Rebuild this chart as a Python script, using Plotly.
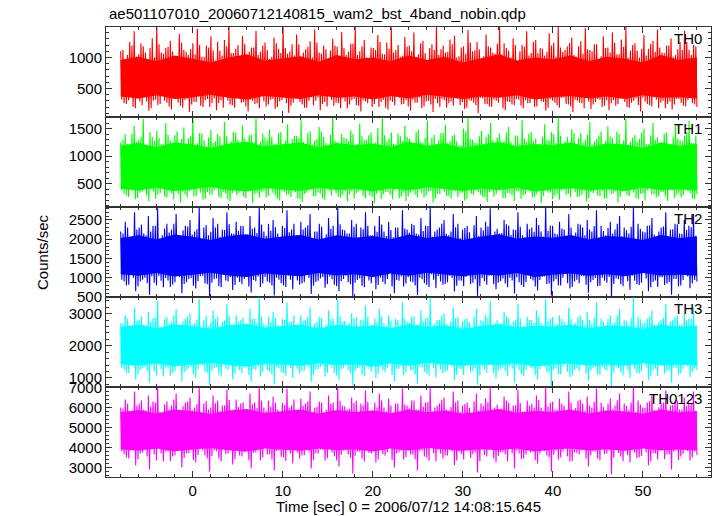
import numpy as np
import plotly.graph_objects as go

title_text = "ae501107010_20060712140815_wam2_bst_4band_nobin.qdp"
band_names = ["TH0", "TH1", "TH2", "TH3", "TH0123"]
band_colors = ["#ff0000", "#00ff00", "#0000ff", "#00ffff", "#ff00ff"]
t_start, t_end = -8.0, 56.0

# large local maxima / minima of each light curve (counts/sec)
th0_peaks = [1100, 980, 1250, 1420, 1050, 1180, 920, 1310, 1490, 1080, 1150, 1270, 990, 1380, 1120, 1040, 1230, 1460, 1010, 1190, 1340, 950, 1110, 1280, 1490, 1070, 1200, 1350, 1020, 1160, 1430, 1090, 1240, 980, 1320, 1140, 1490, 1060, 1210, 1370, 1000, 1130, 1260, 1450, 1080, 1190, 930, 1300, 1170, 1410, 1040, 1220, 1490, 1100, 1280, 970, 1150, 1360, 1060, 1240, 1480, 1120, 1010, 1330, 1190, 1400, 1050, 1270, 960, 1210, 1490, 1130, 1080, 1290, 1350, 1020, 1180, 1440, 1100, 1250, 990, 1370, 1160, 1060, 1490, 1230, 1110, 1310, 940, 1200, 1420, 1070, 1280, 1150, 1030, 1390, 1240, 1490, 1090, 1180, 1320, 1010, 1260, 1470, 1120, 1210, 970, 1340, 1160, 1400, 1050, 1290, 1490, 1110, 1230, 1000, 1360, 1140, 1270, 1450, 1080, 1190, 1310, 1040, 1250, 1430, 1120, 1200, 1060]
th0_troughs = [320, 250, 410, 180, 290, 360, 140, 300, 230, 390, 270, 160, 340, 220, 310, 120, 280, 370, 200, 330, 260, 150, 310, 400, 240, 190, 350, 280, 130, 300, 260, 380, 210, 320, 170, 290, 350, 110, 270, 330, 240, 190, 360, 300, 150, 280, 410, 220, 260, 340, 180, 310, 230, 130, 290, 370, 250, 200, 320, 160, 280, 390, 240, 310, 140, 270, 350, 210, 300, 120, 260, 330, 190, 290, 380, 230, 170, 310, 270, 100, 340, 250, 200, 300, 360, 150, 280, 230, 320, 180, 260, 400, 210, 290, 140, 330, 270, 190, 350, 240, 120, 300, 260, 370, 170, 280, 320, 220, 150, 310, 250, 390, 200, 270, 340, 130, 290, 230, 360, 180, 300, 250, 160, 330, 270, 210, 380, 240, 290]
# smaller extrema in between
th0_mid_peaks = [1120, 1040, 1190, 1010, 1230, 1080, 1150, 1000, 1210, 1060, 1170, 1100, 1020, 1240, 1090, 1130, 1050, 1200, 1010, 1160, 1110, 1250, 1030, 1180, 1070, 1140, 1000, 1220, 1090, 1160, 1040, 1190, 1120, 1010, 1230, 1070, 1150, 1100, 1030, 1210, 1080, 1170, 1000, 1240, 1060, 1130, 1110, 1190, 1020, 1150, 1090, 1220, 1040, 1180, 1000, 1160, 1120, 1250, 1050, 1140, 1080, 1200, 1030, 1170, 1100, 1010, 1230, 1070, 1150, 1120, 1040, 1190, 1090, 1210, 1000, 1160, 1060, 1240, 1110, 1130, 1020, 1180, 1080, 1220, 1050, 1150, 1000, 1200, 1100, 1170, 1030, 1250, 1070, 1140, 1090, 1190, 1010, 1160, 1120, 1230, 1040, 1180, 1060, 1130, 1100, 1210, 1020, 1150, 1080, 1240, 1050, 1170, 1000, 1200, 1110, 1140, 1030, 1220, 1090, 1160, 1070, 1190, 1010, 1130, 1120, 1250, 1040, 1180]
th0_mid_troughs = [260, 310, 200, 340, 230, 290, 180, 320, 250, 300, 210, 350, 270, 190, 330, 240, 280, 220, 310, 200, 340, 260, 190, 300, 230, 350, 270, 210, 320, 250, 180, 290, 240, 330, 200, 310, 260, 220, 340, 280, 190, 300, 230, 350, 250, 210, 320, 270, 180, 290, 240, 330, 220, 310, 260, 200, 340, 280, 190, 300, 230, 350, 250, 210, 320, 270, 180, 290, 240, 330, 200, 310, 260, 220, 340, 280, 190, 300, 230, 350, 250, 210, 320, 270, 180, 290, 240, 330, 220, 310, 260, 200, 340, 280, 190, 300, 230, 350, 250, 210, 320, 270, 180, 290, 240, 330, 200, 310, 260, 220, 340, 280, 190, 300, 230, 350, 250, 210, 320, 270, 180, 290, 240, 330, 220, 310, 260, 200]

th1_peaks = [1250, 1400, 1120, 1550, 1300, 1680, 1180, 1350, 1460, 1220, 1600, 1290, 1380, 1150, 1520, 1330, 1700, 1240, 1410, 1190, 1480, 1270, 1360, 1620, 1210, 1440, 1300, 1560, 1170, 1390, 1700, 1260, 1340, 1490, 1230, 1420, 1150, 1580, 1310, 1370, 1650, 1200, 1450, 1280, 1530, 1350, 1180, 1690, 1260, 1400, 1320, 1470, 1140, 1590, 1290, 1380, 1230, 1510, 1700, 1270, 1430, 1200, 1360, 1550, 1310, 1160, 1480, 1250, 1640, 1340, 1220, 1420, 1570, 1280, 1390, 1190, 1500, 1700, 1300, 1240, 1460, 1350, 1600, 1210, 1410, 1280, 1530, 1170, 1370, 1660, 1260, 1440, 1320, 1200, 1580, 1290, 1400, 1700, 1230, 1350, 1490, 1150, 1420, 1300, 1620, 1270, 1380, 1210, 1540, 1330, 1450, 1180, 1680, 1260, 1390, 1310, 1500, 1220, 1600, 1340, 1250, 1430, 1170, 1560, 1290, 1370, 1640, 1240, 1410]
th1_troughs = [380, 290, 450, 220, 340, 410, 180, 360, 300, 430, 250, 330, 390, 160, 310, 370, 270, 420, 210, 350, 300, 460, 240, 320, 190, 380, 340, 270, 410, 150, 330, 360, 250, 440, 290, 200, 350, 310, 390, 230, 170, 340, 400, 280, 320, 210, 370, 450, 260, 300, 180, 360, 330, 410, 240, 290, 150, 380, 310, 350, 220, 430, 270, 190, 340, 300, 390, 250, 360, 160, 320, 410, 280, 230, 370, 330, 200, 440, 290, 350, 260, 170, 380, 310, 400, 240, 330, 190, 360, 290, 420, 250, 310, 150, 370, 340, 280, 210, 390, 320, 450, 260, 300, 180, 350, 410, 270, 230, 380, 330, 160, 360, 290, 400, 240, 320, 200, 430, 310, 270, 350, 190, 380, 300, 250, 420, 330, 220, 360]
th1_mid_peaks = [1300, 1220, 1410, 1260, 1350, 1190, 1440, 1280, 1330, 1210, 1390, 1250, 1450, 1310, 1230, 1370, 1200, 1420, 1290, 1340, 1240, 1400, 1180, 1360, 1270, 1430, 1220, 1320, 1380, 1250, 1200, 1410, 1300, 1350, 1230, 1440, 1280, 1190, 1370, 1330, 1260, 1420, 1210, 1310, 1450, 1240, 1390, 1290, 1200, 1340, 1270, 1400, 1220, 1360, 1300, 1430, 1250, 1180, 1380, 1320, 1230, 1410, 1280, 1350, 1210, 1440, 1260, 1330, 1190, 1390, 1300, 1420, 1240, 1370, 1270, 1200, 1450, 1310, 1250, 1360, 1220, 1400, 1290, 1340, 1180, 1430, 1260, 1380, 1230, 1320, 1410, 1280, 1200, 1350, 1300, 1440, 1240, 1370, 1270, 1190, 1420, 1330, 1250, 1390, 1210, 1310, 1450, 1280, 1360, 1230, 1400, 1290, 1200, 1340, 1260, 1430, 1220, 1380, 1300, 1250, 1410, 1180, 1350, 1320, 1270, 1440, 1240, 1370]
th1_mid_troughs = [320, 260, 380, 240, 350, 290, 400, 230, 330, 270, 370, 220, 310, 360, 250, 390, 280, 340, 230, 300, 380, 260, 350, 220, 330, 290, 400, 240, 370, 310, 250, 360, 280, 340, 230, 390, 300, 260, 350, 220, 320, 380, 270, 340, 240, 400, 290, 330, 250, 370, 310, 230, 360, 280, 390, 260, 320, 220, 350, 300, 380, 240, 340, 270, 400, 250, 330, 290, 370, 230, 310, 360, 280, 390, 260, 340, 220, 320, 380, 300, 250, 350, 270, 400, 240, 330, 290, 370, 230, 310, 360, 260, 390, 280, 340, 220, 320, 380, 300, 250, 350, 270, 400, 240, 330, 290, 370, 230, 310, 360, 260, 390, 280, 340, 220, 320, 380, 300, 250, 350, 270, 400, 240, 330, 290, 370, 230, 310]

th2_peaks = [2200, 2450, 2050, 2700, 2300, 2150, 2600, 2350, 2800, 2100, 2400, 2250, 2650, 2000, 2350, 2500, 2200, 2830, 2300, 2100, 2550, 2400, 2250, 2700, 2150, 2450, 2350, 2050, 2600, 2300, 2830, 2200, 2400, 2500, 2150, 2350, 2750, 2250, 2100, 2450, 2300, 2650, 2200, 2400, 2000, 2550, 2350, 2830, 2250, 2150, 2500, 2400, 2300, 2700, 2100, 2350, 2600, 2200, 2450, 2050, 2300, 2750, 2250, 2400, 2150, 2550, 2350, 2830, 2200, 2300, 2500, 2100, 2650, 2400, 2250, 2350, 2000, 2600, 2300, 2450, 2800, 2200, 2150, 2500, 2350, 2250, 2700, 2100, 2400, 2300, 2550, 2200, 2830, 2350, 2150, 2450, 2250, 2650, 2050, 2400, 2300, 2500, 2200, 2750, 2350, 2100, 2450, 2250, 2600, 2300, 2150, 2830, 2400, 2200, 2350, 2550, 2050, 2300, 2700, 2250, 2400, 2150, 2500, 2350, 2650, 2200, 2300, 2450, 2100]
th2_troughs = [950, 800, 1100, 650, 900, 1000, 560, 870, 1050, 750, 930, 820, 1150, 600, 880, 990, 720, 1040, 850, 520, 960, 780, 1080, 900, 680, 1000, 830, 1120, 620, 910, 760, 1020, 870, 540, 950, 800, 1060, 700, 930, 850, 1100, 580, 890, 980, 740, 1030, 820, 650, 970, 880, 510, 940, 790, 1070, 860, 700, 1000, 830, 1140, 600, 920, 770, 1010, 880, 550, 960, 810, 1090, 730, 900, 840, 1050, 640, 930, 780, 1120, 870, 520, 990, 820, 1060, 700, 910, 850, 1000, 590, 880, 760, 1080, 930, 670, 1020, 840, 540, 960, 800, 1110, 720, 900, 860, 1040, 610, 940, 780, 1000, 870, 500, 980, 830, 1070, 690, 920, 810, 1130, 650, 890, 760, 1010, 850, 560, 970, 800, 1090, 730, 940]
th2_mid_peaks = [2150, 2300, 2050, 2250, 2380, 2100, 2200, 2350, 2020, 2280, 2170, 2400, 2080, 2230, 2330, 2120, 2260, 2000, 2370, 2190, 2300, 2060, 2240, 2390, 2140, 2210, 2340, 2030, 2270, 2160, 2380, 2090, 2220, 2310, 2050, 2290, 2180, 2400, 2110, 2250, 2360, 2010, 2200, 2330, 2130, 2270, 2070, 2390, 2230, 2150, 2320, 2040, 2260, 2350, 2100, 2190, 2380, 2080, 2240, 2300, 2020, 2280, 2170, 2370, 2120, 2210, 2340, 2060, 2250, 2400, 2140, 2200, 2310, 2030, 2290, 2180, 2360, 2090, 2230, 2330, 2000, 2270, 2160, 2390, 2110, 2240, 2320, 2050, 2260, 2190, 2370, 2070, 2220, 2350, 2130, 2280, 2010, 2300, 2170, 2380, 2100, 2250, 2340, 2040, 2210, 2290, 2150, 2400, 2080, 2230, 2320, 2020, 2270, 2180, 2360, 2120, 2200, 2330, 2060, 2260, 2390, 2140, 2240, 2310, 2090, 2280, 2160, 2350]
th2_mid_troughs = [900, 820, 1000, 780, 950, 860, 1040, 800, 920, 990, 760, 880, 1020, 840, 960, 790, 910, 1050, 830, 870, 980, 750, 930, 1010, 810, 890, 970, 770, 940, 1030, 850, 900, 800, 1000, 860, 760, 950, 1040, 820, 880, 990, 790, 920, 1020, 840, 960, 780, 910, 1050, 830, 870, 980, 750, 930, 1010, 810, 890, 970, 770, 940, 1030, 850, 900, 800, 1000, 860, 760, 950, 1040, 820, 880, 990, 790, 920, 1020, 840, 960, 780, 910, 1050, 830, 870, 980, 750, 930, 1010, 810, 890, 970, 770, 940, 1030, 850, 900, 800, 1000, 860, 760, 950, 1040, 820, 880, 990, 790, 920, 1020, 840, 960, 780, 910, 1050, 830, 870, 980, 750, 930, 1010, 810, 890, 970, 770, 940, 1030, 850, 900, 800]

th3_peaks = [2700, 2950, 2600, 3200, 2800, 2650, 3050, 2850, 3400, 2550, 2900, 2750, 3150, 2650, 2850, 3000, 2700, 3450, 2800, 2600, 3100, 2900, 2750, 3300, 2650, 2950, 2800, 2550, 3150, 2850, 3500, 2700, 2900, 3050, 2650, 2850, 3350, 2750, 2600, 2950, 2800, 3200, 2700, 2900, 2500, 3100, 2850, 3450, 2750, 2650, 3000, 2900, 2800, 3250, 2600, 2850, 3150, 2700, 2950, 2550, 2800, 3350, 2750, 2900, 2650, 3100, 2850, 3500, 2700, 2800, 3000, 2600, 3200, 2900, 2750, 2850, 2500, 3150, 2800, 2950, 3400, 2700, 2650, 3050, 2850, 2750, 3300, 2600, 2900, 2800, 3100, 2700, 3450, 2850, 2650, 2950, 2750, 3200, 2550, 2900, 2800, 3050, 2700, 3350, 2850, 2600, 2950, 2750, 3150, 2800, 2650, 3500, 2900, 2700, 2850, 3100, 2550, 2800, 3300, 2750, 2900, 2650, 3000, 2850, 3200, 2700, 2800, 2950, 2600]
th3_troughs = [1300, 1150, 1450, 950, 1250, 1350, 850, 1200, 1400, 1050, 1300, 1150, 1500, 900, 1250, 1350, 1000, 1400, 1200, 780, 1300, 1100, 1450, 1250, 950, 1350, 1150, 1480, 880, 1250, 1050, 1400, 1200, 800, 1300, 1150, 1420, 1000, 1280, 1200, 1460, 870, 1250, 1350, 1050, 1400, 1150, 920, 1320, 1230, 760, 1300, 1100, 1440, 1200, 990, 1350, 1170, 1490, 900, 1280, 1080, 1380, 1230, 820, 1320, 1130, 1450, 1010, 1260, 1190, 1410, 930, 1290, 1090, 1470, 1220, 790, 1340, 1160, 1420, 980, 1270, 1200, 1380, 860, 1240, 1070, 1440, 1290, 960, 1370, 1180, 740, 1310, 1120, 1460, 1020, 1250, 1210, 1400, 910, 1300, 1100, 1350, 1230, 730, 1330, 1170, 1430, 990, 1280, 1140, 1480, 940, 1250, 1060, 1370, 1200, 850, 1320, 1150, 1450, 1030, 1290]
th3_mid_peaks = [2700, 2850, 2600, 2780, 2920, 2650, 2750, 2880, 2580, 2820, 2680, 2950, 2630, 2770, 2900, 2660, 2810, 2550, 2930, 2720, 2840, 2610, 2790, 2940, 2690, 2760, 2870, 2570, 2830, 2710, 2910, 2640, 2740, 2860, 2600, 2800, 2730, 2950, 2620, 2780, 2890, 2560, 2750, 2860, 2670, 2820, 2590, 2930, 2770, 2700, 2850, 2580, 2810, 2900, 2650, 2740, 2920, 2620, 2790, 2840, 2570, 2830, 2710, 2910, 2660, 2760, 2880, 2600, 2800, 2950, 2690, 2750, 2860, 2580, 2820, 2730, 2900, 2640, 2780, 2870, 2550, 2810, 2700, 2930, 2660, 2790, 2850, 2610, 2800, 2720, 2920, 2630, 2770, 2890, 2680, 2830, 2560, 2840, 2710, 2940, 2650, 2800, 2880, 2590, 2760, 2830, 2690, 2950, 2620, 2780, 2860, 2570, 2820, 2730, 2910, 2670, 2740, 2870, 2600, 2810, 2930, 2680, 2790, 2850, 2640, 2820, 2700, 2900]
th3_mid_troughs = [1250, 1150, 1350, 1100, 1300, 1200, 1400, 1080, 1270, 1330, 1060, 1220, 1380, 1170, 1310, 1120, 1260, 1390, 1160, 1210, 1340, 1050, 1290, 1370, 1130, 1240, 1320, 1090, 1280, 1360, 1180, 1250, 1110, 1350, 1190, 1070, 1300, 1390, 1140, 1230, 1340, 1100, 1270, 1380, 1160, 1310, 1080, 1260, 1400, 1150, 1220, 1330, 1060, 1290, 1370, 1130, 1240, 1320, 1090, 1280, 1360, 1180, 1250, 1110, 1350, 1190, 1070, 1300, 1390, 1140, 1230, 1340, 1100, 1270, 1380, 1160, 1310, 1080, 1260, 1400, 1150, 1220, 1330, 1060, 1290, 1370, 1130, 1240, 1320, 1090, 1280, 1360, 1180, 1250, 1110, 1350, 1190, 1070, 1300, 1390, 1140, 1230, 1340, 1100, 1270, 1380, 1160, 1310, 1080, 1260, 1400, 1150, 1220, 1330, 1060, 1290, 1370, 1130, 1240, 1320, 1090, 1280, 1360, 1180, 1250, 1110]

th0123_peaks = [6000, 6400, 5800, 6800, 6200, 5900, 6600, 6300, 7000, 5700, 6300, 6100, 6700, 5850, 6250, 6500, 6000, 7000, 6200, 5900, 6600, 6350, 6100, 6900, 5800, 6400, 6200, 5750, 6700, 6250, 7000, 6000, 6350, 6550, 5900, 6250, 6950, 6100, 5850, 6450, 6200, 6800, 6000, 6300, 5700, 6600, 6250, 7000, 6100, 5900, 6500, 6350, 6200, 6850, 5800, 6250, 6700, 6000, 6450, 5750, 6200, 6950, 6100, 6350, 5900, 6600, 6250, 7000, 6000, 6200, 6500, 5850, 6800, 6350, 6100, 6250, 5700, 6700, 6200, 6450, 7000, 6000, 5900, 6550, 6250, 6100, 6900, 5800, 6350, 6200, 6600, 6000, 7000, 6250, 5900, 6450, 6100, 6800, 5750, 6350, 6200, 6550, 6000, 6950, 6250, 5850, 6450, 6100, 6700, 6200, 5900, 7000, 6350, 6000, 6250, 6600, 5750, 6200, 6850, 6100, 6350, 5900, 6500, 6250, 6800, 6000, 6200, 6450, 5850]
th0123_troughs = [3800, 3500, 4100, 3100, 3700, 3950, 2900, 3650, 4050, 3300, 3800, 3550, 4200, 3000, 3700, 3900, 3250, 4100, 3600, 2800, 3850, 3450, 4150, 3700, 3150, 3950, 3550, 4250, 2950, 3750, 3350, 4050, 3650, 2850, 3850, 3500, 4150, 3200, 3750, 3600, 4200, 2950, 3700, 3900, 3350, 4050, 3550, 3050, 3850, 3650, 2700, 3800, 3450, 4100, 3700, 3250, 3950, 3600, 4250, 3000, 3750, 3400, 4000, 3650, 2850, 3850, 3500, 4150, 3300, 3700, 3600, 4050, 3100, 3800, 3400, 4200, 3650, 2750, 3900, 3550, 4100, 3250, 3750, 3650, 4000, 2950, 3700, 3450, 4150, 3800, 3200, 3950, 3600, 2800, 3850, 3500, 4200, 3300, 3750, 3650, 4050, 3050, 3800, 3450, 3950, 3700, 2650, 3900, 3550, 4100, 3250, 3750, 3500, 4250, 3100, 3700, 3400, 4000, 3650, 2900, 3850, 3550, 4150, 3350, 3800]
th0123_mid_peaks = [5950, 6200, 5800, 6100, 6350, 5850, 6050, 6250, 5780, 6150, 5900, 6400, 5820, 6080, 6300, 5870, 6180, 5750, 6330, 6000, 6220, 5830, 6120, 6380, 5920, 6030, 6270, 5760, 6170, 5980, 6360, 5840, 6060, 6240, 5790, 6140, 6010, 6400, 5810, 6090, 6310, 5760, 6040, 6260, 5890, 6190, 5800, 6340, 6070, 5940, 6230, 5780, 6130, 6290, 5860, 6020, 6370, 5820, 6110, 6210, 5770, 6160, 5970, 6350, 5880, 6050, 6280, 5800, 6100, 6390, 5910, 6030, 6250, 5790, 6180, 5990, 6320, 5850, 6080, 6270, 5750, 6140, 5960, 6360, 5870, 6120, 6230, 5810, 6100, 6000, 6380, 5830, 6060, 6300, 5900, 6190, 5760, 6240, 5980, 6400, 5860, 6110, 6290, 5790, 6040, 6200, 5920, 6370, 5820, 6080, 6260, 5780, 6150, 5990, 6330, 5880, 6020, 6250, 5800, 6130, 6350, 5910, 6090, 6220, 5840, 6170, 5950, 6310]
th0123_mid_troughs = [3650, 3450, 3850, 3400, 3750, 3550, 3900, 3350, 3700, 3800, 3320, 3600, 3880, 3480, 3720, 3380, 3630, 3860, 3460, 3580, 3820, 3300, 3680, 3870, 3420, 3610, 3780, 3360, 3740, 3850, 3500, 3660, 3390, 3830, 3540, 3330, 3710, 3890, 3440, 3620, 3810, 3370, 3690, 3880, 3470, 3760, 3350, 3640, 3900, 3490, 3590, 3790, 3310, 3730, 3860, 3410, 3670, 3770, 3380, 3700, 3840, 3520, 3650, 3400, 3820, 3560, 3340, 3720, 3890, 3450, 3600, 3800, 3360, 3680, 3870, 3480, 3750, 3320, 3630, 3900, 3460, 3580, 3780, 3300, 3710, 3850, 3430, 3660, 3760, 3370, 3690, 3830, 3510, 3640, 3390, 3810, 3550, 3330, 3730, 3880, 3440, 3610, 3800, 3350, 3670, 3860, 3490, 3740, 3320, 3620, 3890, 3470, 3590, 3770, 3310, 3700, 3840, 3420, 3650, 3790, 3380, 3680, 3820, 3500, 3630, 3400]

# densely covered core of each band (upper / lower edge, every 2 s)
th0_core_hi = [960, 1010, 940, 1030, 980, 920, 1000, 1050, 950, 990, 1020, 930, 1040, 970, 1000, 940, 1030, 960, 1010, 920, 990, 1050, 950, 1000, 970, 1030, 940, 1010, 980, 920, 1040, 960, 1000]
th0_core_lo = [370, 340, 390, 330, 360, 400, 350, 320, 380, 360, 330, 390, 350, 370, 320, 380, 340, 400, 360, 330, 370, 350, 390, 320, 360, 380, 340, 370, 330, 390, 350, 360, 340]
th1_core_hi = [1190, 1240, 1160, 1250, 1210, 1150, 1230, 1260, 1180, 1220, 1250, 1160, 1240, 1200, 1230, 1170, 1260, 1190, 1230, 1150, 1210, 1260, 1180, 1220, 1200, 1250, 1160, 1230, 1210, 1150, 1250, 1190, 1220]
th1_core_lo = [410, 380, 430, 370, 400, 440, 390, 360, 420, 400, 370, 430, 390, 410, 360, 420, 380, 440, 400, 370, 410, 390, 430, 360, 400, 420, 380, 410, 370, 430, 390, 400, 380]
th2_core_hi = [2030, 2100, 1990, 2120, 2060, 1980, 2080, 2130, 2010, 2070, 2110, 1990, 2100, 2040, 2080, 2000, 2120, 2030, 2090, 1980, 2060, 2130, 2010, 2070, 2040, 2110, 1990, 2080, 2050, 1980, 2110, 2030, 2070]
th2_core_lo = [1090, 1050, 1120, 1030, 1080, 1130, 1060, 1020, 1110, 1080, 1040, 1120, 1060, 1090, 1020, 1110, 1050, 1130, 1080, 1040, 1090, 1060, 1120, 1020, 1080, 1110, 1050, 1090, 1040, 1120, 1060, 1080, 1050]
th3_core_hi = [2580, 2650, 2540, 2670, 2610, 2530, 2630, 2680, 2560, 2620, 2660, 2540, 2650, 2590, 2630, 2550, 2670, 2580, 2640, 2530, 2610, 2680, 2560, 2620, 2590, 2660, 2540, 2630, 2600, 2530, 2660, 2580, 2620]
th3_core_lo = [1430, 1390, 1460, 1370, 1420, 1470, 1400, 1360, 1450, 1420, 1380, 1460, 1400, 1430, 1360, 1450, 1390, 1470, 1420, 1380, 1430, 1400, 1460, 1360, 1420, 1450, 1390, 1430, 1380, 1460, 1400, 1420, 1390]
th0123_core_hi = [5770, 5880, 5700, 5910, 5820, 5690, 5850, 5930, 5730, 5830, 5900, 5700, 5880, 5780, 5850, 5720, 5910, 5770, 5860, 5690, 5820, 5930, 5730, 5830, 5780, 5900, 5700, 5850, 5800, 5690, 5900, 5770, 5830]
th0123_core_lo = [3910, 3850, 3960, 3820, 3900, 3980, 3870, 3810, 3950, 3900, 3840, 3960, 3870, 3920, 3810, 3950, 3850, 3980, 3900, 3840, 3920, 3870, 3960, 3810, 3900, 3950, 3850, 3920, 3840, 3960, 3870, 3900, 3850]

peaks = [th0_peaks, th1_peaks, th2_peaks, th3_peaks, th0123_peaks]
troughs = [th0_troughs, th1_troughs, th2_troughs, th3_troughs, th0123_troughs]
mid_peaks = [th0_mid_peaks, th1_mid_peaks, th2_mid_peaks, th3_mid_peaks, th0123_mid_peaks]
mid_troughs = [th0_mid_troughs, th1_mid_troughs, th2_mid_troughs, th3_mid_troughs, th0123_mid_troughs]
core_hi = [th0_core_hi, th1_core_hi, th2_core_hi, th3_core_hi, th0123_core_hi]
core_lo = [th0_core_lo, th1_core_lo, th2_core_lo, th3_core_lo, th0123_core_lo]

y_ranges = [[40, 1490], [80, 1710], [500, 2835], [720, 3515], [2530, 7030]]
y_dticks = [500, 500, 500, 1000, 1000]
y_minor = [100, 100, 100, 200, 200]
x_range = [-9.63, 57.56]

FONT = "Liberation Sans, Arial, sans-serif"
fig = go.Figure()
n_panels = len(band_names)
for i in range(n_panels):
    ax = "" if i == 0 else str(i + 1)
    # densely covered core band
    tc = np.linspace(t_start, t_end, len(core_hi[i]))
    fig.add_trace(go.Scatter(x=tc, y=core_lo[i], mode="lines", line=dict(width=0, color=band_colors[i]),
                             xaxis="x" + ax, yaxis="y" + ax, showlegend=False, hoverinfo="skip"))
    fig.add_trace(go.Scatter(x=tc, y=core_hi[i], mode="lines", line=dict(width=0, color=band_colors[i]),
                             fill="tonexty", fillcolor=band_colors[i],
                             xaxis="x" + ax, yaxis="y" + ax, showlegend=False, hoverinfo="skip"))
    # spiky light curve: big max, big min, small max, small min, ...
    n = min(len(peaks[i]), len(troughs[i]), len(mid_peaks[i]), len(mid_troughs[i]))
    vals = []
    for k in range(n):
        vals += [peaks[i][k], troughs[i][k], mid_peaks[i][k], mid_troughs[i][k]]
    t = np.linspace(t_start, t_end, len(vals))
    fig.add_trace(go.Scatter(x=t, y=vals, mode="lines",
                             line=dict(color=band_colors[i], width=1.1),
                             xaxis="x" + ax, yaxis="y" + ax,
                             showlegend=False, hoverinfo="skip"))

layout = dict(width=717, height=516, paper_bgcolor="white", plot_bgcolor="white",
              margin=dict(l=106, r=6, t=27, b=39), showlegend=False,
              font=dict(family=FONT, size=15, color="black"))
h = 1.0 / n_panels
for i in range(n_panels):
    ax = "" if i == 0 else str(i + 1)
    lo = 1 - (i + 1) * h
    hi = 1 - i * h
    bottom = (i == n_panels - 1)
    layout["xaxis" + ax] = dict(domain=[0, 1], anchor="y" + ax, range=x_range,
                                showline=True, linecolor="#333", linewidth=1, mirror="allticks",
                                ticks="inside", ticklen=6, tickcolor="#333", tick0=0, dtick=10,
                                minor=dict(ticks="inside", ticklen=3, dtick=2, tickcolor="#333"),
                                showgrid=False, zeroline=False, showticklabels=bottom,
                                tickfont=dict(size=15))
    if i > 0:
        layout["xaxis" + ax]["matches"] = "x"
    layout["yaxis" + ax] = dict(domain=[lo, hi], anchor="x" + ax, range=y_ranges[i],
                                showline=True, linecolor="#333", linewidth=1, mirror="allticks",
                                ticks="inside", ticklen=6, tickcolor="#333", dtick=y_dticks[i],
                                minor=dict(ticks="inside", ticklen=3, dtick=y_minor[i], tickcolor="#333"),
                                showgrid=False, zeroline=False, tickfont=dict(size=15))
fig.update_layout(**layout)

for i in range(n_panels):
    fig.add_annotation(text=band_names[i], xref="paper", yref="paper", x=1, y=1 - i * h,
                       xanchor="right", yanchor="top", xshift=-7, yshift=-1, showarrow=False,
                       font=dict(size=15, color="black"))
fig.add_annotation(text=title_text, xref="paper", yref="paper", x=0, y=1, xanchor="left",
                   yanchor="bottom", xshift=1, yshift=3, showarrow=False, font=dict(size=15))
fig.add_annotation(text="Counts/sec", xref="paper", yref="paper", x=0, y=0.5, textangle=-90,
                   xanchor="center", yanchor="middle", xshift=-64, showarrow=False, font=dict(size=15))
fig.add_annotation(text="Time [sec] 0 = 2006/07/12 14:08:15.645", xref="paper", yref="paper",
                   x=0.5, y=0, xanchor="center", yanchor="top", yshift=-19, showarrow=False,
                   font=dict(size=15))
fig.write_html("out.html", config={"displayModeBar": False},
               post_script="document.body.style.margin='0';document.body.style.overflow='hidden';")
